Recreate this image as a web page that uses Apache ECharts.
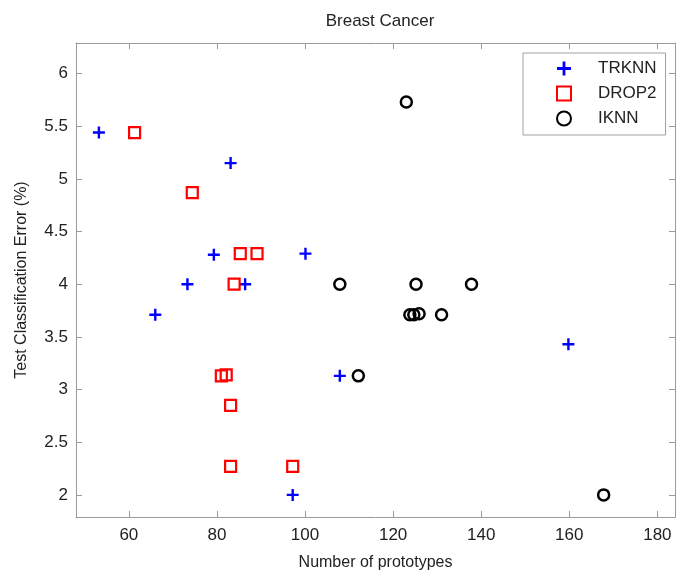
<!DOCTYPE html>
<html>
<head>
<meta charset="utf-8">
<script src="https://cdn.jsdelivr.net/npm/echarts@6/dist/echarts.min.js"></script>
<style>html,body{margin:0;padding:0;background:#fff;}#c{width:676px;height:572px;}</style>
</head>
<body>
<div id="c"></div>
<script>
var titleText = 'Breast Cancer';
var xName = 'Number of prototypes';
var yName = 'Test Classification Error (%)';
var seriesNames = ['TRKNN', 'DROP2', 'IKNN'];
var xTicks = [60, 80, 100, 120, 140, 160, 180];
var yTicks = [2, 2.5, 3, 3.5, 4, 4.5, 5, 5.5, 6];

var trknnX = [53.2, 83.1, 79.3, 100.1, 73.3, 86.4, 66.0, 107.9, 97.2, 159.8];
var trknnY = [5.44, 5.15, 4.28, 4.29, 4.00, 4.00, 3.71, 3.13, 2.00, 3.43];
var drop2X = [61.3, 74.4, 85.3, 89.1, 83.9, 81.0, 82.1, 83.1, 83.1, 97.2];
var drop2Y = [5.44, 4.87, 4.29, 4.29, 4.00, 3.13, 3.14, 2.85, 2.27, 2.27];
var iknnX = [123.0, 107.9, 125.2, 137.8, 123.8, 124.7, 125.9, 131.0, 112.1, 167.8];
var iknnY = [5.73, 4.00, 4.00, 4.00, 3.71, 3.71, 3.72, 3.71, 3.13, 2.00];

function pairs(xs, ys) { return xs.map(function (x, i) { return [x, ys[i]]; }); }

var FONT = "'Liberation Sans', Arial, sans-serif";
var AX = '#9a9a9a';
var TXT = '#222';
var plusPath = 'path://M4,0H6V4H10V6H6V10H4V6H0V4H4Z';

var chart = echarts.init(document.getElementById('c'), null, {renderer: 'canvas'});

function baseX(show, pos) {
  return {
    type: 'value', position: pos, min: 48, max: 184,
    axisLine: {show: true, onZero: false, lineStyle: {color: AX, width: 1}},
    axisTick: {show: true, inside: true, length: 6, customValues: xTicks, lineStyle: {color: AX}},
    axisLabel: {show: show, customValues: xTicks, color: TXT, fontFamily: FONT, fontSize: 17, margin: 10},
    splitLine: {show: false}
  };
}
function baseY(show, pos) {
  return {
    type: 'value', position: pos, min: 1.79, max: 6.29,
    axisLine: {show: true, onZero: false, lineStyle: {color: AX, width: 1}},
    axisTick: {show: true, inside: true, length: 6, customValues: yTicks, lineStyle: {color: AX}},
    axisLabel: {show: show, customValues: yTicks, color: TXT, fontFamily: FONT, fontSize: 17, margin: 8},
    splitLine: {show: false}
  };
}

var xa0 = baseX(true, 'bottom');
xa0.name = xName; xa0.nameLocation = 'middle'; xa0.nameGap = 38;
xa0.nameTextStyle = {color: TXT, fontFamily: FONT, fontSize: 16};
var xa1 = baseX(false, 'top');
var ya0 = baseY(true, 'left');
ya0.name = yName; ya0.nameLocation = 'middle'; ya0.nameGap = 46;
ya0.nameTextStyle = {color: TXT, fontFamily: FONT, fontSize: 16};
var ya1 = baseY(false, 'right');

chart.setOption({
  backgroundColor: '#fff',
  animation: false,
  title: {
    text: titleText, left: 375, top: 8, textAlign: 'center',
    textStyle: {color: TXT, fontFamily: FONT, fontSize: 17, fontWeight: 'normal'}
  },
  grid: {left: 76, right: 1, top: 43, bottom: 55, containLabel: false, outerBoundsMode: 'none'},
  legend: {
    orient: 'vertical', left: 523, top: 53,
    padding: [7, 9, 8, 33],
    itemWidth: 14, itemHeight: 14, itemGap: 8,
    backgroundColor: '#fff', borderColor: '#a0a0a0', borderWidth: 1,
    textStyle: {color: TXT, fontFamily: FONT, fontSize: 17, padding: [0, 0, 0, 22]},
    data: seriesNames
  },
  xAxis: [xa0, xa1],
  yAxis: [ya0, ya1],
  series: [
    {
      name: seriesNames[0], type: 'scatter', data: pairs(trknnX, trknnY),
      symbol: plusPath, symbolSize: 12,
      itemStyle: {color: '#0000ff', opacity: 1}
    },
    {
      name: seriesNames[1], type: 'scatter', data: pairs(drop2X, drop2Y),
      symbol: 'rect', symbolSize: 11,
      itemStyle: {color: 'rgba(0,0,0,0)', borderColor: '#ff0000', borderWidth: 2.2, opacity: 1}
    },
    {
      name: seriesNames[2], type: 'scatter', data: pairs(iknnX, iknnY),
      symbol: 'circle', symbolSize: 11,
      itemStyle: {color: 'rgba(0,0,0,0)', borderColor: '#000000', borderWidth: 2.5, opacity: 1}
    }
  ]
});
</script>
</body>
</html>
